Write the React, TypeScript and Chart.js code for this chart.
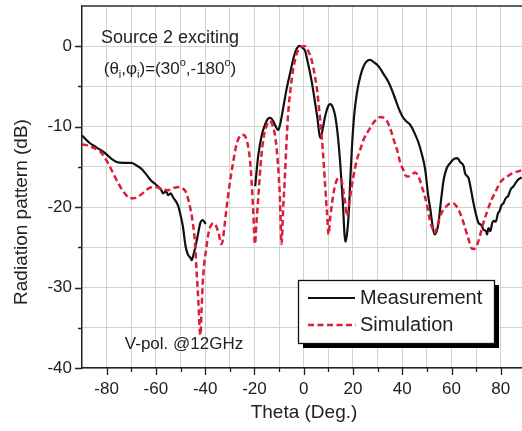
import React, { useEffect, useRef } from "react";
import { Chart, registerables } from "chart.js";

Chart.register(...registerables);

// ---- Data ----
const measTheta: number[] = [
  -90, -87, -84, -81, -78, -76, -73, -70, -68, -66, -64, -62, -60, -58, -57, -56, -55, -54, -53, -51, -50, -49, -48,
  -47, -46, -45.5, -45, -44, -43, -42, -41, -40, -39.8,
  -30, // gap
  -19.7, -18.5, -17, -16, -14.5, -13.5, -12.4, -11, -10.3, -9.5, -8.4, -7, -5.5, -4, -3, -1.7, -0.5, 0.6, 1.5, 3, 4,
  5.5, 6.7, 7.5, 8.7, 10, 10.8, 11.8, 12.8, 13.8, 14.8, 15.8, 16.9, 17.5, 18.2, 19, 19.6, 20.5, 21.6, 23, 24.3, 25.5,
  27, 28.5, 30.4, 32.5, 34.5, 36.5, 38.5, 40, 41.5, 43.3, 45, 46.6, 48, 49.3, 50.5, 51.4, 52.3, 53.1, 54, 54.7, 55.5,
  56.8, 58, 59.5, 61, 62.4, 63.5, 64.9, 65.5, 66.9, 68, 68.9, 70, 71, 72, 73, 74, 74.4, 75, 75.7, 76.5, 77.1, 78, 78.8,
  79.5, 80.2, 81.1, 82, 83, 84, 85.2, 86, 87, 88.5,
];
const measDb: (number | null)[] = [
  -11.1, -12.0, -12.6, -13.2, -14.0, -14.4, -14.5, -14.5, -14.8, -15.2, -15.9, -16.7, -17.2, -17.8, -18.3, -18.0,
  -18.5, -18.3, -18.8, -19.8, -21.0, -22.5, -24.8, -25.9, -26.3, -26.6, -26.2, -25.0, -23.5, -22.0, -21.6, -22.0,
  -22.1,
  null,
  -17.4, -13.7, -11.0, -10.0, -9.0, -8.9, -9.3, -10.2, -10.4, -9.6, -7.8, -5.4, -3.3, -1.3, -0.4, 0.05, -0.2, -0.6,
  -1.8, -4.0, -5.8, -8.8, -11.4, -10.6, -8.7, -7.4, -7.2, -7.6, -8.7, -11.0, -14.5, -19.0, -24.3, -23.5, -21.1, -16.0,
  -12.4, -8.5, -5.8, -3.7, -2.5, -1.9, -1.7, -2.0, -2.5, -3.5, -4.5, -6.0, -7.7, -8.7, -9.3, -9.8, -10.8, -12.0,
  -13.5, -15.3, -18.5, -20.3, -22.3, -23.4, -23.0, -22.0, -19.8, -16.6, -15.2, -14.5, -14.0, -13.9, -14.4, -14.9,
  -15.8, -16.4, -18.0, -19.5, -21.0, -22.0, -22.2, -22.8, -23.0, -23.4, -22.6, -23.0, -22.0, -21.7, -21.8, -20.8,
  -20.5, -19.8, -19.5, -18.9, -18.6, -17.8, -17.4, -17.0, -16.6, -16.3,
];

const simTheta: number[] = [
  -90, -87, -85.6, -83, -81.5, -79.5, -77.5, -75.5, -73.4, -71.5, -70.7, -69, -67.3, -65, -62.6, -60, -57.2, -55,
  -52.5, -50.4, -49, -47.7, -46.5, -45, -44, -43.6, -42.8, -42.2, -41.9, -41.5, -40.8, -39.5, -38.5, -37.5, -36.8,
  -35.5, -34.5, -33.5, -33, -32.2, -31.4, -30, -28.7, -27.5, -26.5, -25, -24, -22.6, -21.8, -21.2, -20.5, -19.8,
  -19.2, -18.5, -17.2, -16.2, -15.1, -14, -13.1, -12.2, -11.4, -10.5, -9.7, -9.0, -8.4, -7.7, -7, -6.3, -5.3, -4.3,
  -3.2, -2.2, -1, 0.6, 2, 3.3, 4.4, 5.4, 6.4, 7.4, 8.1, 8.7, 9.4, 10.1, 10.7, 11.5, 12.5, 13.5, 14.8, 15.6, 16.2, 17,
  17.5, 18, 18.9, 20, 21.6, 23, 24.3, 26.5, 28.3, 30, 31.1, 32.5, 33.8, 35.2, 36.5, 38, 39.2, 40.3, 41.2, 42, 43.5,
  45.1, 46, 47.1, 48, 49.1, 50.2, 51.2, 52.3, 53.2, 54, 55.2, 56.5, 57.9, 59, 60.6, 62, 63.4, 64.8, 66.1, 67.2, 68.1,
  69, 70.1, 71.5, 72.8, 74.5, 76.2, 78, 79.6, 81.5, 83.6, 85.5, 87.7, 88.5,
];
const simDb: number[] = [
  -12.2, -12.4, -12.6, -13.0, -13.5, -14.5, -15.7, -16.9, -18.0, -18.7, -18.9, -18.9, -18.7, -18.2, -17.6, -17.5,
  -17.8, -17.9, -17.6, -17.5, -17.7, -18.2, -19.5, -22.0, -25.0, -27.4, -31.5, -35.3, -35.9, -33.0, -28.5, -25.0,
  -23.0, -22.2, -22.0, -22.4, -23.3, -24.6, -24.3, -22.5, -20.3, -17.0, -14.5, -12.5, -11.5, -11.0, -11.1, -12.4,
  -14.2, -16.6, -20.5, -24.6, -22.0, -19.0, -13.7, -11.2, -9.9, -9.3, -9.5, -10.3, -11.6, -14.5, -18.6, -24.6, -20.5,
  -16.6, -12.0, -8.3, -5.2, -2.9, -1.3, -0.4, -0.05, 0.0, -0.7, -1.8, -3.5, -5.4, -8.3, -11.6, -14.5, -17.4, -20.5,
  -23.4, -21.5, -19.5, -17.6, -16.6, -16.4, -17.0, -18.2, -19.8, -21.1, -20.5, -18.6, -16.5, -14.1, -12.8, -11.6,
  -10.4, -9.5, -9.0, -8.8, -8.9, -9.3, -10.3, -11.6, -13.0, -14.5, -15.3, -16.0, -16.2, -16.1, -15.7, -15.9, -16.6,
  -17.5, -18.6, -20.0, -21.6, -22.7, -23.2, -22.6, -21.3, -20.4, -19.9, -19.6, -19.5, -19.9, -20.7, -21.9, -23.2,
  -24.3, -25.1, -25.2, -24.9, -23.6, -22.1, -20.5, -19.1, -18.0, -17.0, -16.4, -16.0, -15.7, -15.5, -15.4,
];

const xTicks: number[] = [-80, -70, -60, -50, -40, -30, -20, -10, 0, 10, 20, 30, 40, 50, 60, 70, 80];
const yTicks: number[] = [-40, -35, -30, -25, -20, -15, -10, -5, 0, 5];
const seriesNames: string[] = ["Measurement", "Simulation"];
const xTitle = "Theta (Deg.)";
const yTitle = "Radiation pattern (dB)";
const noteTop = "Source 2 exciting";
const noteBottom = "V-pol. @12GHz";

const FONT = '"Liberation Sans", Arial, sans-serif';
const RED = "#dc1e3c";
const BLACK = "#111111";

const decorPlugin = {
  id: "decor",
  afterDraw(chart: any) {
    const { ctx, chartArea } = chart;
    const xs = chart.scales.x;
    const ys = chart.scales.y;
    ctx.save();
    // top frame
    ctx.strokeStyle = "#333";
    ctx.lineWidth = 1.5;
    ctx.beginPath();
    ctx.moveTo(chartArea.left, chartArea.top);
    ctx.lineTo(chartArea.right, chartArea.top);
    ctx.stroke();
    // tick marks
    ctx.strokeStyle = "#222";
    ctx.lineWidth = 1.3;
    ctx.beginPath();
    xTicks.forEach((v) => {
      const px = Math.round(xs.getPixelForValue(v)) + 0.5;
      const len = v % 20 === 0 ? 7 : 4;
      ctx.moveTo(px, chartArea.bottom);
      ctx.lineTo(px, chartArea.bottom + len);
    });
    yTicks.forEach((v) => {
      if (v > 0) return;
      const py = Math.round(ys.getPixelForValue(v)) + 0.5;
      const len = v % 10 === 0 ? 7 : 4;
      ctx.moveTo(chartArea.left, py);
      ctx.lineTo(chartArea.left - len, py);
    });
    ctx.stroke();

    // axis titles
    ctx.fillStyle = "#222";
    ctx.font = `19px ${FONT}`;
    ctx.textAlign = "center";
    ctx.textBaseline = "middle";
    ctx.fillText(xTitle, 304, 413);
    ctx.save();
    ctx.translate(22, 212);
    ctx.rotate(-Math.PI / 2);
    ctx.fillText(yTitle, 0, 0);
    ctx.restore();

    // annotations
    ctx.font = `18px ${FONT}`;
    ctx.fillText(noteTop, 170, 38);
    ctx.font = `17px ${FONT}`;
    ctx.fillText(noteBottom, 184, 344);

    // (θi,φi)=(30°,-180°) with sub/superscripts
    const parts: [string, "n" | "sub" | "sup"][] = [
      ["(θ", "n"],
      ["i", "sub"],
      [",φ", "n"],
      ["i", "sub"],
      [")=(30", "n"],
      ["o", "sup"],
      [",-180", "n"],
      ["o", "sup"],
      [")", "n"],
    ];
    const baseSize = 17;
    const smallSize = 11;
    let total = 0;
    parts.forEach(([t, k]) => {
      ctx.font = `${k === "n" ? baseSize : smallSize}px ${FONT}`;
      total += ctx.measureText(t).width;
    });
    let cx = 170 - total / 2;
    const baseY = 74;
    ctx.textAlign = "left";
    ctx.textBaseline = "alphabetic";
    parts.forEach(([t, k]) => {
      ctx.font = `${k === "n" ? baseSize : smallSize}px ${FONT}`;
      const dy = k === "sub" ? 4 : k === "sup" ? -8 : 0;
      ctx.fillText(t, cx, baseY + dy);
      cx += ctx.measureText(t).width;
    });

    // legend
    const bx = 298, by = 280, bw = 196, bh = 63;
    ctx.fillStyle = "#000";
    ctx.fillRect(bx + 5, by + 5, bw, bh);
    ctx.fillStyle = "#fff";
    ctx.fillRect(bx, by, bw, bh);
    ctx.strokeStyle = "#111";
    ctx.lineWidth = 1.3;
    ctx.strokeRect(bx + 0.5, by + 0.5, bw, bh);

    ctx.lineWidth = 2.2;
    ctx.strokeStyle = BLACK;
    ctx.setLineDash([]);
    ctx.beginPath();
    ctx.moveTo(308, 298);
    ctx.lineTo(355, 298);
    ctx.stroke();
    ctx.strokeStyle = RED;
    ctx.lineWidth = 2.5;
    ctx.setLineDash([6, 3.5]);
    ctx.beginPath();
    ctx.moveTo(308, 325);
    ctx.lineTo(356, 325);
    ctx.stroke();
    ctx.setLineDash([]);

    ctx.fillStyle = "#222";
    ctx.font = `20px ${FONT}`;
    ctx.textAlign = "left";
    ctx.textBaseline = "middle";
    ctx.fillText(seriesNames[0], 360, 298);
    ctx.fillText(seriesNames[1], 360, 325);
    ctx.restore();
  },
};

export default function App() {
  const ref = useRef<HTMLCanvasElement | null>(null);

  useEffect(() => {
    if (!ref.current) return;
    const measPts = measTheta.map((x, i) => ({ x, y: measDb[i] }));
    const simPts = simTheta.map((x, i) => ({ x, y: simDb[i] }));
    const chart = new Chart(ref.current, {
      type: "line",
      data: {
        datasets: [
          {
            label: seriesNames[1],
            data: simPts as any,
            borderColor: RED,
            borderWidth: 2.5,
            borderDash: [6, 3.5],
            pointRadius: 0,
            cubicInterpolationMode: "monotone",
            spanGaps: false,
          },
          {
            label: seriesNames[0],
            data: measPts as any,
            borderColor: BLACK,
            borderWidth: 2.2,
            pointRadius: 0,
            cubicInterpolationMode: "monotone",
            spanGaps: false,
          },
        ],
      },
      options: {
        animation: false,
        responsive: false,
        devicePixelRatio: 1,
        layout: { padding: { left: 0, top: 6, right: 0, bottom: 0 } },
        plugins: { legend: { display: false }, tooltip: { enabled: false } },
        scales: {
          x: {
            type: "linear",
            min: -90,
            max: 88.6,
            afterBuildTicks: (s: any) => {
              s.ticks = xTicks.map((v) => ({ value: v }));
            },
            afterFit: (s: any) => {
              s.height = 63;
              s.paddingLeft = 0;
              s.paddingRight = 0;
              s.paddingTop = 0;
              s.paddingBottom = 0;
            },
            ticks: {
              autoSkip: false,
              maxRotation: 0,
              padding: 11,
              color: "#222",
              font: { family: FONT, size: 17 },
              callback: (v: any) => (Number(v) % 20 === 0 ? String(v) : ""),
            },
            grid: { color: "#d2d2d2", lineWidth: 1, drawTicks: false },
            border: { display: true, color: "#222", width: 1.5 },
          },
          y: {
            type: "linear",
            min: -40,
            max: 5,
            afterBuildTicks: (s: any) => {
              s.ticks = yTicks.map((v) => ({ value: v }));
            },
            afterFit: (s: any) => {
              s.width = 82;
              s.paddingLeft = 0;
              s.paddingRight = 0;
              s.paddingTop = 0;
              s.paddingBottom = 0;
            },
            ticks: {
              autoSkip: false,
              padding: 10,
              color: "#222",
              font: { family: FONT, size: 17 },
              callback: (v: any) => (Number(v) % 10 === 0 && Number(v) <= 0 ? String(v) : ""),
            },
            grid: { color: "#d2d2d2", lineWidth: 1, drawTicks: false },
            border: { display: true, color: "#222", width: 1.5 },
          },
        },
      },
      plugins: [decorPlugin],
    });
    return () => chart.destroy();
  }, []);

  return (
    <div style={{ position: "fixed", left: 0, top: 0, width: 522, height: 431, background: "#fff" }}>
      <canvas ref={ref} width={522} height={431} style={{ width: 522, height: 431, display: "block" }} />
    </div>
  );
}
